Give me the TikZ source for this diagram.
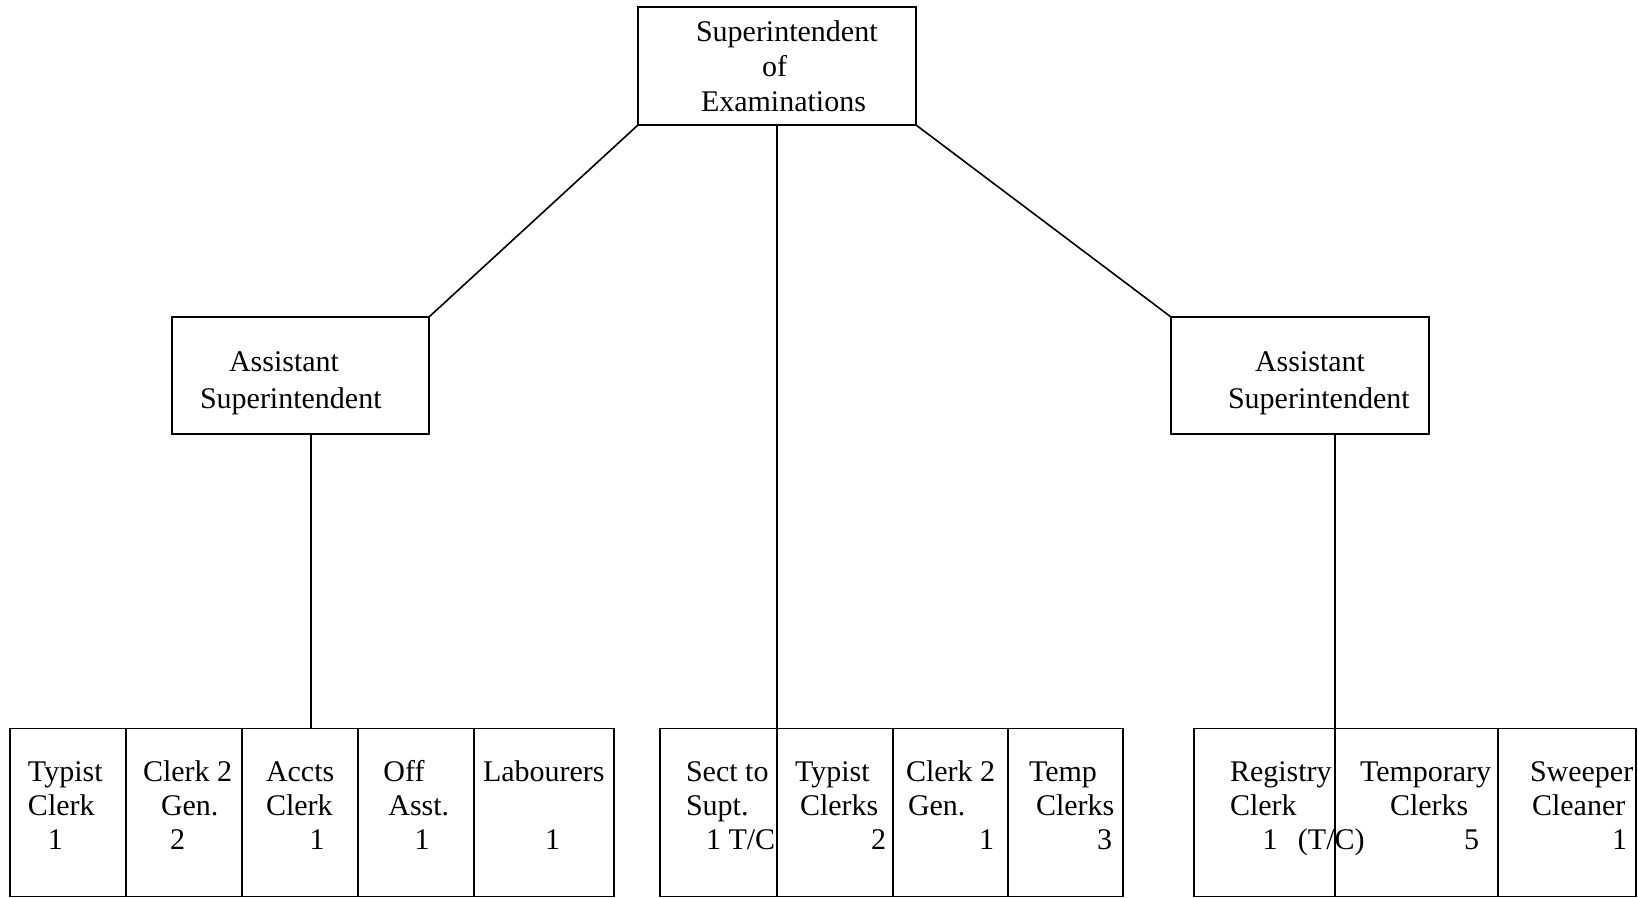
\documentclass[tikz,border=0pt]{standalone}
\usepackage{fontspec}
\setmainfont{Liberation Serif}
\usetikzlibrary{positioning}
\newcommand{\fixsp}{\spaceskip=3.75pt\relax}
\tikzset{
  box/.style={draw, line width=0.8pt, inner xsep=0pt, inner ysep=0pt, outer sep=0pt,
    align=left, font=\fontsize{15}{17.5}\selectfont},
  asst/.style={box, text width=128.5pt, minimum height=58.5pt,
    font=\fontsize{15}{18.5}\selectfont,
    execute at begin node={\fixsp\rule{0pt}{17.3pt}}},
  cell/.style={box, minimum height=84pt, font=\fontsize{15}{17}\selectfont,
    execute at begin node={\fixsp\rule{0pt}{12.5pt}},
    execute at end node={\rule[-10pt]{0pt}{10pt}}},
  conn/.style={line width=0.8pt}
}

\begin{document}
\begin{tikzpicture}[x=0.5pt, y=-0.5pt]
    \useasboundingbox (0,0) rectangle (1638,898);

    % top of the chart
    \node[box, text width=139pt, minimum height=59pt] (sup) at (777,66)
        {\hspace*{29pt}Superintendent\\\hspace*{62pt}of\\\hspace*{31.5pt}Examinations};

    % the two assistants
    \node[asst] (lasst) at (300.5,375.5)
        {\hspace*{28.5pt}Assistant\\\hspace*{14pt}Superintendent};
    \node[asst, text width=129pt] (rasst) at (1300,375.5)
        {\hspace*{42pt}Assistant\\\hspace*{28.5pt}Superintendent};

    % staff under the left assistant
    \node[cell, text width=58pt] (typist) at (68,812.5)
        {\hspace*{9pt}Typist\\\hspace*{9pt}Clerk\\\hspace*{19pt}1};
    \node[cell, text width=58pt, right=0pt of typist] (clerkgen)
        {\hspace*{8.5pt}Clerk 2\\\hspace*{17.5pt}Gen.\\\hspace*{22pt}2};
    \node[cell, text width=58pt, right=0pt of clerkgen] (accts)
        {\hspace*{12pt}Accts\\\hspace*{12pt}Clerk\\\hspace*{33.8pt}1};
    \node[cell, text width=58pt, right=0pt of accts] (offasst)
        {\hspace*{12.7pt}Off\\\hspace*{15.2pt}Asst.\\\hspace*{28.3pt}1};
    \node[cell, text width=70pt, right=0pt of offasst] (labourers)
        {\hspace*{4.5pt}Labourers\\\mbox{}\\\hspace*{35.5pt}1};

    % staff under the superintendent
    \node[cell, text width=58.5pt] (sect) at (718.5,812.5)
        {\hspace*{13pt}Sect to\\\hspace*{13pt}Supt.\\\hspace*{23pt}\rlap{1 T/C}};
    \node[cell, text width=58pt, right=0pt of sect] (typclerks)
        {\hspace*{9pt}Typist\\\hspace*{11.5pt}Clerks\\\hspace*{47pt}2};
    \node[cell, text width=57.5pt, right=0pt of typclerks] (clerkgenb)
        {\hspace*{6.5pt}Clerk 2\\\hspace*{7.5pt}Gen.\\\hspace*{43pt}1};
    \node[cell, text width=57.5pt, right=0pt of clerkgenb] (tempclerks)
        {\hspace*{10.5pt}Temp\\\hspace*{14pt}Clerks\\\hspace*{44.5pt}3};

    % staff under the right assistant
    \node[cell, text width=70.5pt] (registry) at (1264.5,812.5)
        {\hspace*{18pt}Registry\\\hspace*{18pt}Clerk\\\hspace*{34.3pt}\rlap{1\hspace{10.2pt}(T/C)}};
    \node[cell, text width=81.5pt, right=0pt of registry] (temporary)
        {\hspace*{12.5pt}Temporary\\\hspace*{27.5pt}Clerks\\\hspace*{64.5pt}5};
    \node[cell, text width=69pt, right=0pt of temporary] (sweeper)
        {\hspace*{16pt}Sweeper\\\hspace*{17pt}Cleaner\\\hspace*{57pt}1};

    % connectors
    \coordinate (lfoot) at ([xshift=5.25pt]lasst.south);
    \coordinate (rfoot) at ([xshift=17.5pt]rasst.south);
    \draw[conn] (sup.south west) -- (lasst.north east);
    \draw[conn] (sup.south east) -- (rasst.north west);
    \draw[conn] (sup.south) -- (sect.south east);
    \draw[conn] (lfoot) -- (lfoot |- accts.north);
    \draw[conn] (rfoot) -- (registry.south east);
\end{tikzpicture}
\end{document}
